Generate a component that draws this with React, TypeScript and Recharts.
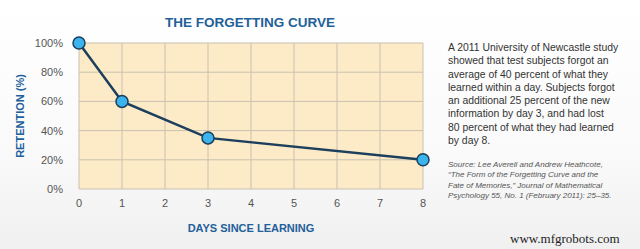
import { LineChart, Line, XAxis, YAxis, CartesianGrid } from "recharts";

const days = [0, 1, 3, 8];
const retention = [100, 60, 35, 20];
const xTicks = [0, 1, 2, 3, 4, 5, 6, 7, 8];
const yTicks = [0, 20, 40, 60, 80, 100];

const noteLines = [
  "A 2011 University of Newcastle study",
  "showed that test subjects forgot an",
  "average of 40 percent of what they",
  "learned within a day. Subjects forgot",
  "an additional 25 percent of the new",
  "information by day 3, and had lost",
  "80 percent of what they had learned",
  "by day 8.",
];
const sourceLines = [
  "Source: Lee Averell and Andrew Heathcote,",
  "“The Form of the Forgetting Curve and the",
  "Fate of Memories,” Journal of Mathematical",
  "Psychology 55, No. 1 (February 2011): 25–35.",
];

const chartData = days.map((d, i) => ({ day: d, retention: retention[i] }));

const FONT = "'Liberation Sans', Arial, sans-serif";
const BLUE = "#22609a";
const NAVY = "#1b3f5c";

export default function App() {
  return (
    <div
      style={{
        position: "absolute",
        left: 0,
        top: 0,
        width: 640,
        height: 249,
        overflow: "hidden",
        background: "linear-gradient(180deg, #ffffff 0%, #fafafa 60%, #f0f0f0 100%)",
        fontFamily: FONT,
      }}
    >
      <div
        style={{
          position: "absolute",
          left: 0,
          width: 500,
          top: 15,
          textAlign: "center",
          fontSize: 13.5,
          fontWeight: 700,
          color: BLUE,
        }}
      >
        THE FORGETTING CURVE
      </div>
      <LineChart
        width={640}
        height={249}
        data={chartData}
        margin={{ top: 43, right: 217, bottom: 0, left: 0 }}
        style={{ position: "absolute", left: 0, top: 0 }}
      >
        <CartesianGrid fill="#fdebc8" stroke="#c9c0b0" strokeWidth={1} />
        <XAxis
          dataKey="day"
          type="number"
          domain={[0, 8]}
          ticks={xTicks}
          axisLine={false}
          tickLine={false}
          tickSize={0}
          tickMargin={10}
          height={60}
          tick={{ fontSize: 11, fill: "#555", fontFamily: FONT }}
          label={{
            value: "DAYS SINCE LEARNING",
            position: "insideBottom",
            offset: 17,
            style: { fontSize: 11, fontWeight: 700, fill: BLUE, fontFamily: FONT },
          }}
        />
        <YAxis
          type="number"
          domain={[0, 100]}
          ticks={yTicks}
          axisLine={false}
          tickLine={false}
          tickSize={0}
          tickMargin={16}
          width={79}
          tickFormatter={(v) => `${v}%`}
          tick={{ fontSize: 11, fill: "#555", fontFamily: FONT }}
          label={{
            value: "RETENTION (%)",
            angle: -90,
            position: "insideLeft",
            offset: 20,
            style: { fontSize: 11, fontWeight: 700, fill: BLUE, fontFamily: FONT, textAnchor: "middle" },
          }}
        />
        <Line
          type="linear"
          dataKey="retention"
          stroke={NAVY}
          strokeWidth={2.5}
          dot={{ r: 6, fill: "#3bb3ec", stroke: NAVY, strokeWidth: 1.5 }}
          isAnimationActive={false}
        />
      </LineChart>
      <div
        style={{
          position: "absolute",
          left: 448,
          top: 41,
          fontSize: 10.4,
          lineHeight: "13.3px",
          color: "#333",
          whiteSpace: "nowrap",
        }}
      >
        {noteLines.map((l) => (
          <div key={l}>{l}</div>
        ))}
      </div>
      <div
        style={{
          position: "absolute",
          left: 448,
          top: 160,
          fontSize: 8,
          lineHeight: "10.4px",
          fontStyle: "italic",
          color: "#555",
          whiteSpace: "nowrap",
        }}
      >
        {sourceLines.map((l) => (
          <div key={l}>{l}</div>
        ))}
      </div>
      <div
        style={{
          position: "absolute",
          left: 510,
          top: 231,
          fontFamily: "'Liberation Serif', 'DejaVu Serif', serif",
          fontSize: 13,
          color: "#222",
        }}
      >
        www.mfgrobots.com
      </div>
    </div>
  );
}
